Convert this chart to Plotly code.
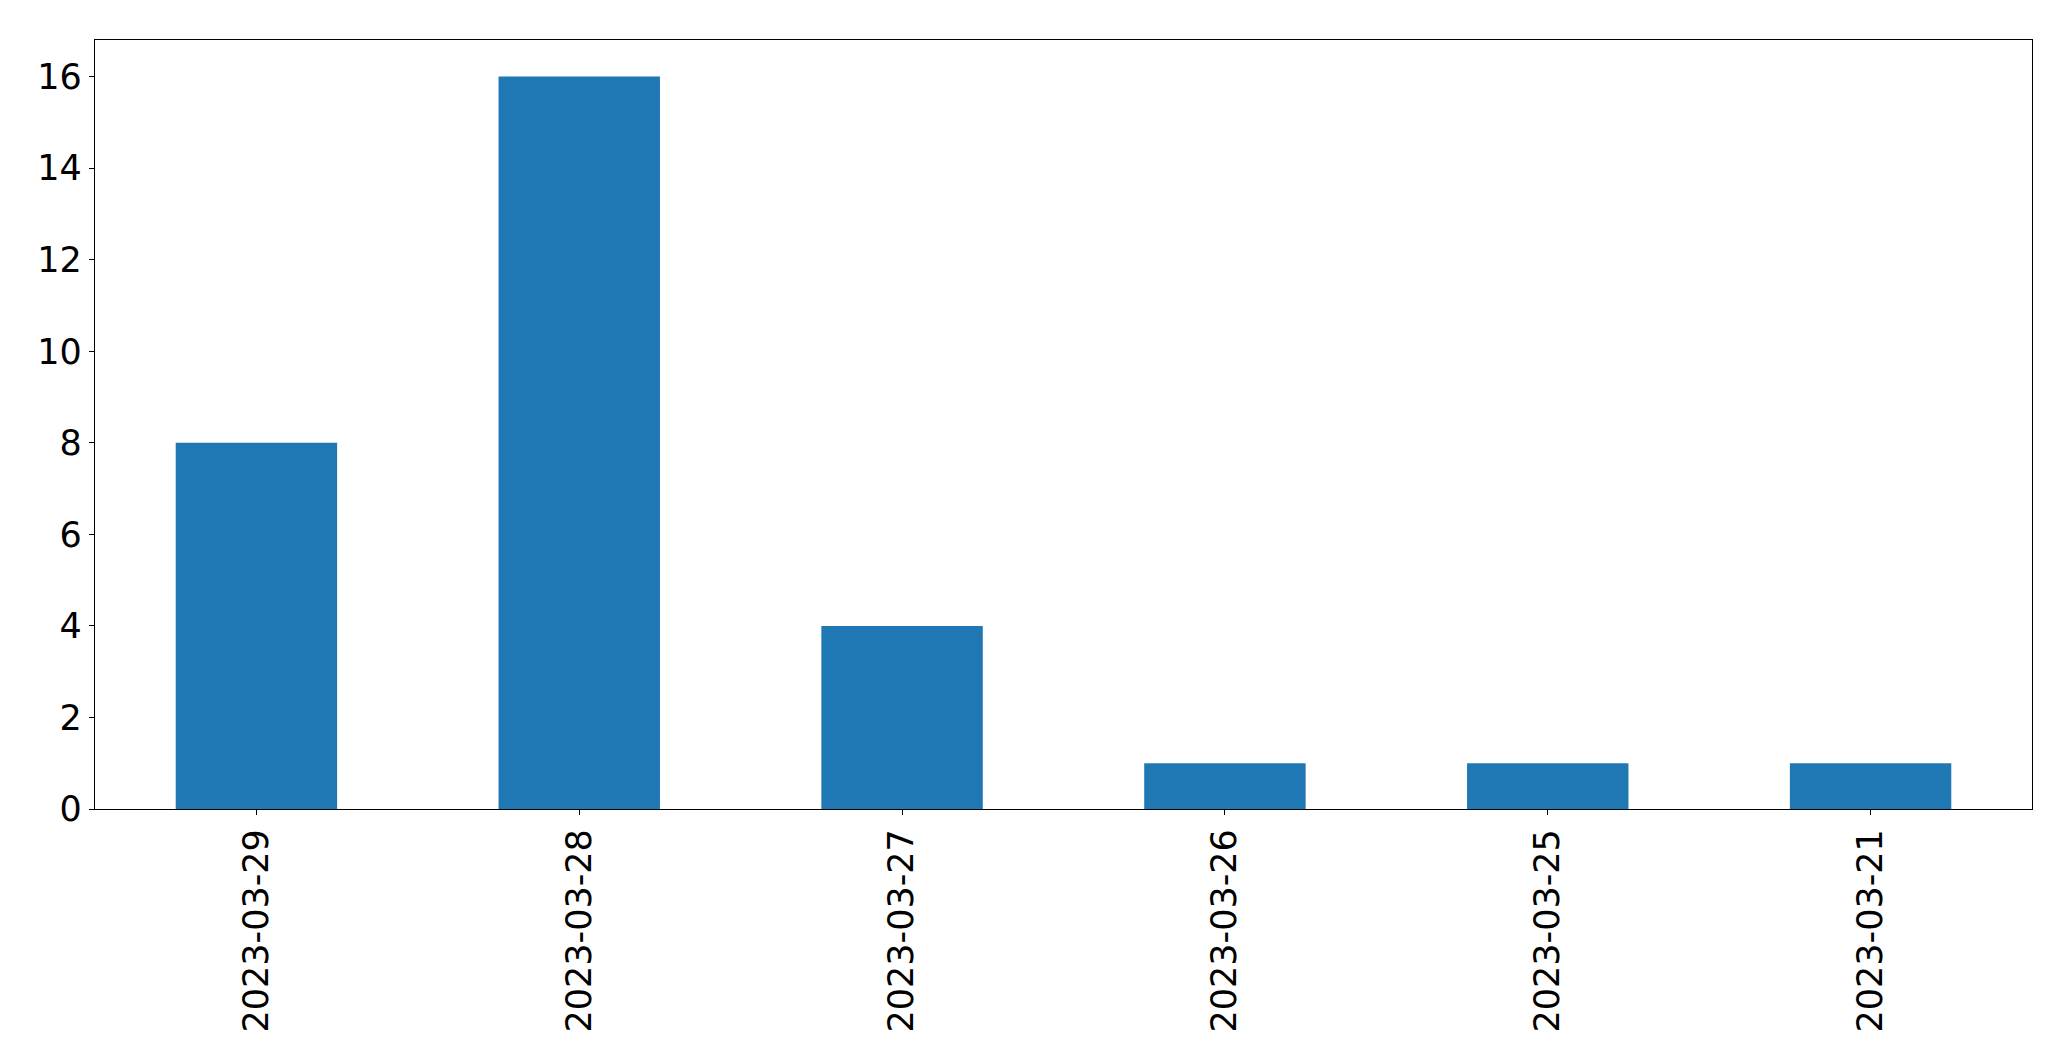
import plotly.graph_objects as go

categories = ["2023-03-29", "2023-03-28", "2023-03-27", "2023-03-26", "2023-03-25", "2023-03-21"]
values = [8, 16, 4, 1, 1, 1]
y_ticks = [0, 2, 4, 6, 8, 10, 12, 14, 16]

fig = go.Figure(go.Bar(x=categories, y=values, width=0.5, marker=dict(color="#1f77b4", line=dict(width=0))))

axis_common = dict(showline=True, linecolor="black", linewidth=1.3, mirror=True,
                   ticks="outside", ticklen=5, tickwidth=1.3, tickcolor="black",
                   showgrid=False, zeroline=False, automargin=False,
                   tickfont=dict(family="DejaVu Sans", size=35, color="black"))

# page body has an 8px default margin, so the figure is offset by 8px
fig.update_layout(
    width=2063, height=1053,
    margin=dict(l=86.5, r=38.5, t=31.5, b=252, autoexpand=False),
    plot_bgcolor="white", paper_bgcolor="white",
    showlegend=False,
    xaxis=dict(type="category", categoryorder="array", categoryarray=categories,
               range=[-0.5, 5.5], tickangle=-90, **axis_common),
    yaxis=dict(range=[0, 16.8], tickvals=y_ticks, ticktext=[str(v) for v in y_ticks], **axis_common),
)

fig.write_html("out.html")
